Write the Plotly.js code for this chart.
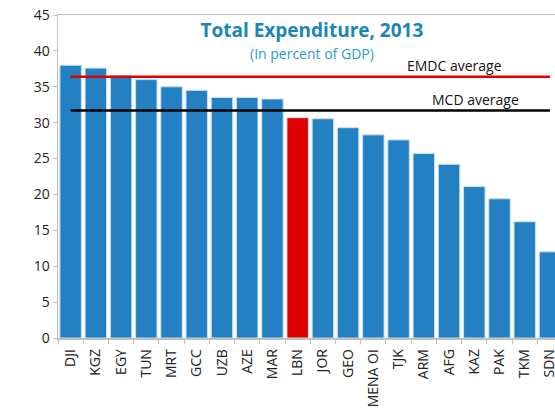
<!DOCTYPE html>
<html>
<head>
<meta charset="utf-8">
<script src="https://cdn.plot.ly/plotly-3.0.1.min.js"></script>
<style>html,body{margin:0;padding:0;overflow:hidden;background:#fff}</style>
</head>
<body>
<div id="chart" style="width:555px;height:408px"></div>
<script>
const countries = ["DJI","KGZ","EGY","TUN","MRT","GCC","UZB","AZE","MAR","LBN","JOR","GEO","MENA OI","TJK","ARM","AFG","KAZ","PAK","TKM","SDN"];
const expenditure = [38.0,37.6,36.6,36.0,35.0,34.5,33.5,33.5,33.3,30.7,30.55,29.3,28.3,27.6,25.7,24.2,21.1,19.4,16.2,12.0];
const highlight = "LBN";
const emdcAverage = 36.4;
const mcdAverage = 31.7;
const yTicks = [0,5,10,15,20,25,30,35,40,45];

const barColors = countries.map(c => c === highlight ? "#E00000" : "#2380C2");

const traces = [
  {
    type: "bar",
    x: countries,
    y: expenditure,
    marker: {color: barColors, line: {color: "#C9DFF0", width: 1}},
    hoverinfo: "x+y"
  },
  {
    type: "scatter", mode: "lines",
    x: [countries[0], countries[countries.length-1]],
    y: [emdcAverage, emdcAverage],
    line: {color: "#E00000", width: 2.5}
  },
  {
    type: "scatter", mode: "lines",
    x: [countries[0], countries[countries.length-1]],
    y: [mcdAverage, mcdAverage],
    line: {color: "#000000", width: 2.5}
  }
];

const font = "Open Sans, Liberation Sans, sans-serif";

const layout = {
  width: 555, height: 408,
  margin: {l: 58, r: 0, t: 15, b: 70},
  paper_bgcolor: "#fff", plot_bgcolor: "#fff",
  showlegend: false,
  bargap: 0.15,
  font: {family: font, size: 14, color: "#222"},
  title: {
    text: "<b>Total Expenditure, 2013</b>",
    font: {family: font, size: 19, color: "#1887B5"},
    x: 0.562, xanchor: "center", y: 1 - 30/408, yanchor: "middle"
  },
  xaxis: {
    type: "category",
    range: [-0.5, 19.2],
    tickangle: -90,
    showline: true, linecolor: "#C0C0C0", linewidth: 1.5, mirror: true,
    ticks: "outside", ticklen: 4, tickcolor: "#C0C0C0",
    tickson: "boundaries",
    ticklabelstandoff: 4,
    showgrid: false,
    tickfont: {size: 14, color: "#222"}
  },
  yaxis: {
    range: [0, 45],
    tickvals: yTicks,
    showline: true, linecolor: "#C0C0C0", linewidth: 1.5,
    ticks: "outside", ticklen: 4, tickcolor: "#C0C0C0",
    showgrid: false, zeroline: false,
    tickfont: {size: 14, color: "#222"}
  },
  annotations: [
    {text: "(In percent of GDP)", xref: "paper", yref: "paper", x: (312-58)/497, y: 1-(53-15)/323,
     showarrow: false, font: {family: font, size: 14, color: "#2A9BD0"}, xanchor: "center", yanchor: "middle"},
    {text: "EMDC average", xref: "x", yref: "y", x: 15.23, y: 37.9, showarrow: false,
     font: {family: font, size: 14, color: "#111"}, xanchor: "center", yanchor: "middle"},
    {text: "MCD average", xref: "x", yref: "y", x: 16.03, y: 33.2, showarrow: false,
     font: {family: font, size: 14, color: "#111"}, xanchor: "center", yanchor: "middle"}
  ]
};

Plotly.newPlot("chart", traces, layout, {displayModeBar: false, staticPlot: true});
</script>
</body>
</html>
